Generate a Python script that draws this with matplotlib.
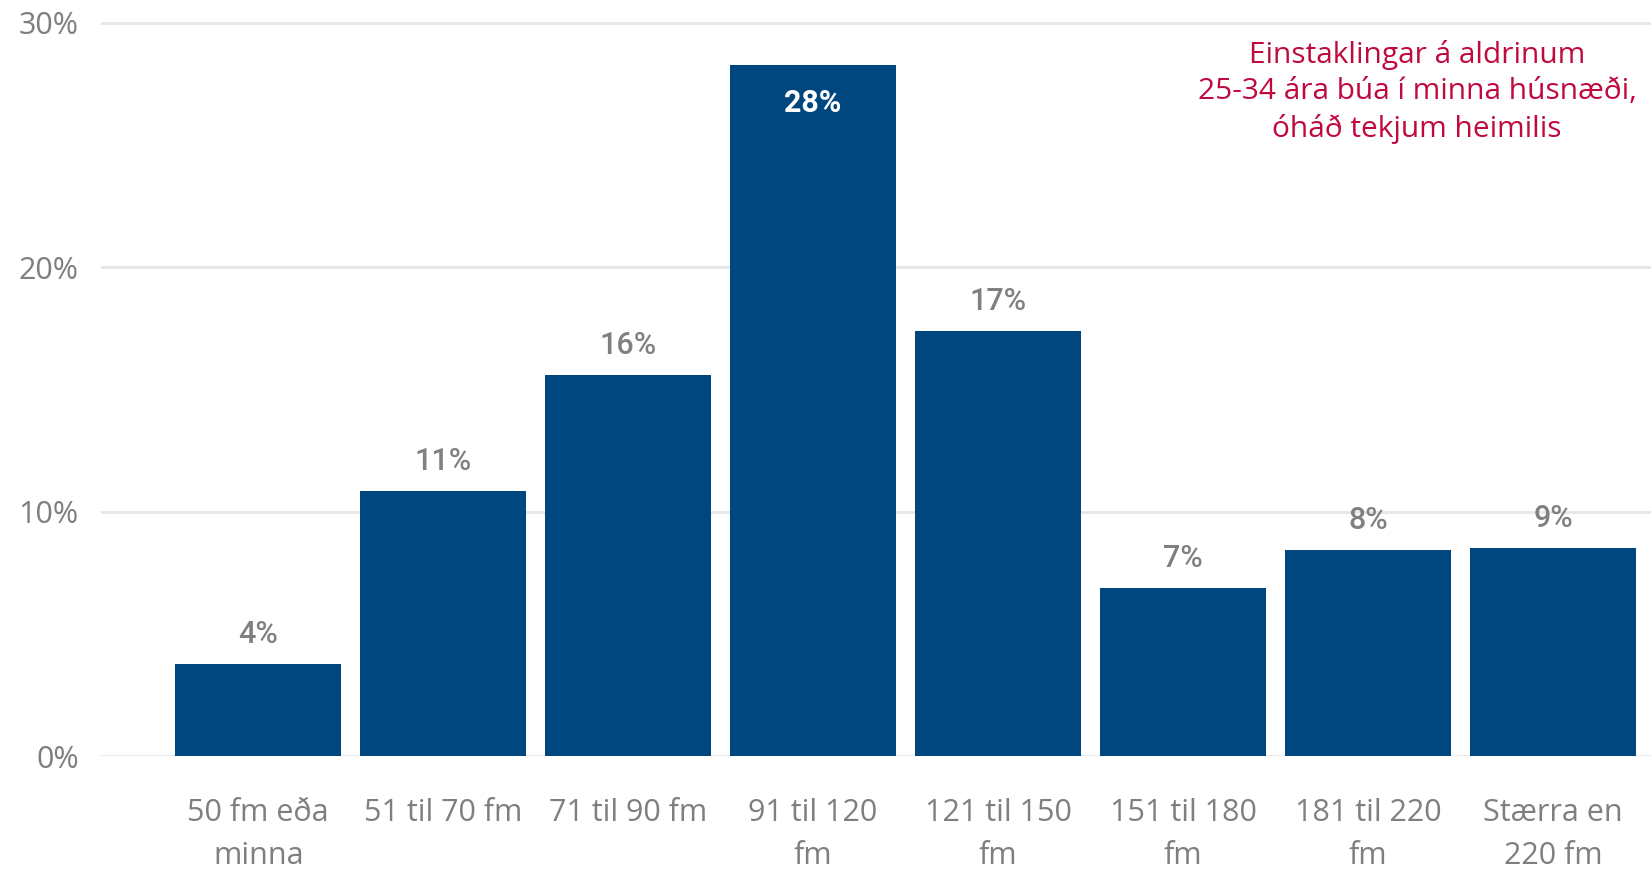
import matplotlib
matplotlib.use("Agg")
import matplotlib.pyplot as plt
from matplotlib.ticker import FuncFormatter

categories = ["50 fm eða\nminna", "51 til 70 fm", "71 til 90 fm", "91 til 120\nfm",
              "121 til 150\nfm", "151 til 180\nfm", "181 til 220\nfm", "Stærra en\n220 fm"]
values = [3.78, 10.83, 15.6, 28.28, 17.4, 6.88, 8.42, 8.51]
labels = ["4%", "11%", "16%", "28%", "17%", "7%", "8%", "9%"]
yticks = [0, 10, 20, 30]
note = "Einstaklingar á aldrinum\n25-34 ára búa í minna húsnæði,\nóháð tekjum heimilis"

W, H = 1651, 869
fig = plt.figure(figsize=(W / 100, H / 100), dpi=100)
top_px = 17.8
base_px = 756
ax = fig.add_axes([101 / W, 1 - base_px / H, 1 - 101 / W, (base_px - top_px) / H])

bar_color = "#00467F"
x = list(range(len(categories)))
ax.bar(x, values, width=0.9, color=bar_color, zorder=3)

ax.set_xlim(-0.85, 7.53)
ax.set_ylim(0, 30.2)
ax.set_yticks(yticks)
ax.yaxis.set_major_formatter(FuncFormatter(lambda v, p: f"{v:.0f}%"))
ax.grid(axis="y", color="#e6e6e6", linewidth=2, zorder=0)
for s in ax.spines.values():
    s.set_visible(False)
ax.tick_params(axis="both", length=0, labelsize=22, labelcolor="#7f7f7f")
ax.tick_params(axis="y", pad=16)
ax.tick_params(axis="x", pad=30)
ax.set_xticks(x)
ax.set_xticklabels(categories, fontfamily="Open Sans", linespacing=1.6)
for t in ax.get_yticklabels():
    t.set_fontfamily("Open Sans")

for i, (v, lab) in enumerate(zip(values, labels)):
    if i == 3:
        ax.text(i, v - 1.55, lab, ha="center", va="center", color="white",
                fontsize=22, fontweight="bold", fontfamily="Roboto", zorder=4)
    else:
        ax.text(i, v + 1.2, lab, ha="center", va="center", color="#808080",
                fontsize=22, fontweight="medium", fontfamily="Roboto", zorder=4)

fig.text(1417 / W, 1 - 92 / H, note, ha="center", va="center", color="#C0093E",
         fontsize=21.5, fontfamily="Open Sans", linespacing=1.35)

fig.savefig("out.png", dpi=100, facecolor="white")
